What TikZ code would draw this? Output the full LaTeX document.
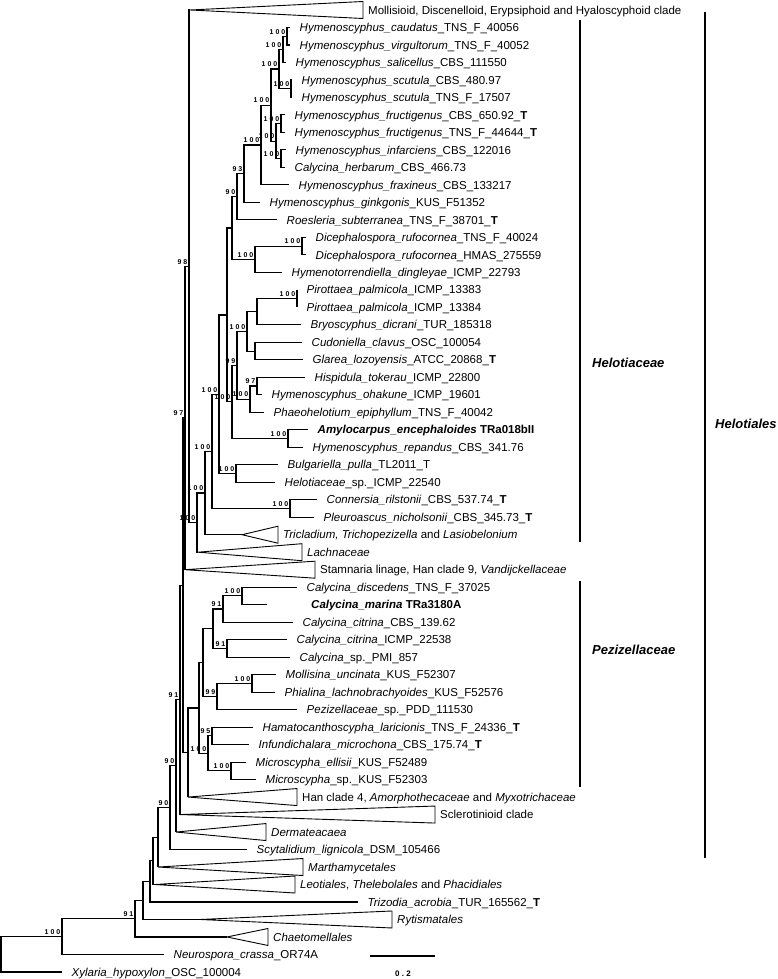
\documentclass[tikz,border=0pt]{standalone}
\usepackage{fontspec}
\setmainfont{Liberation Sans}
\newfontfamily\supfam[LetterSpace=28]{Liberation Sans}
\tikzset{
 br/.style={line width=1.1pt, line join=miter},
 tri/.style={line width=0.9pt, line join=miter},
 bar/.style={line width=2.4pt},
 lab/.style={anchor=west, inner sep=0pt, font=\fontsize{11.5}{13}\selectfont, text height=8.3pt, text depth=0pt},
 tlab/.style={lab, xshift=9.5pt},
 clab/.style={lab, xshift=5pt},
 supf/.style={inner sep=0pt, font=\supfam\bfseries\fontsize{7}{7}\selectfont, text height=5pt, text depth=0pt},
 sup/.style={supf, anchor=south east, xshift=-1.5pt, yshift=2pt},
 famlab/.style={anchor=west, inner sep=0pt, font=\bfseries\itshape\fontsize{13}{15}\selectfont},
}
\newcommand\Tip[4]{\coordinate (#1) at (#2,#3); \node[tlab] (#1-l) at (#1) {#4};}
\newcommand\Tri[5]{%
 \coordinate (#1) at (#2,#3);
 \coordinate (#1-t) at (#4,{#3-0.486});
 \coordinate (#1-b) at (#4,{#3+0.486});
 \draw[tri] (#1) -- (#1-t) -- (#1-b) -- cycle;
 \node[clab] (#1-l) at (#4,#3) {#5};}
\newcommand\Nd[5]{\coordinate (#1) at (#2,#3); \draw[br] (#4) -| (#1) |- (#5);}
\newcommand\Sup[2]{\node[sup] (#1-s) at (#1) {#2};}
\begin{document}
\begin{tikzpicture}
\useasboundingbox (0,0) rectangle (778pt,-979pt);
\begin{scope}[x=1pt,y=-17.49pt,yshift=-10pt]
% ---- tips and collapsed clades
\Tri{moll}{190}{0}{363}{Mollisioid, Discenelloid, Erypsiphoid and Hyaloscyphoid clade}
\Tip{cau}{290}{1}{\textit{Hymenoscyphus\_caudatus}\_TNS\_F\_40056}
\Tip{vir}{290}{2}{\textit{Hymenoscyphus\_virgultorum}\_TNS\_F\_40052}
\Tip{sal}{286}{3}{\textit{Hymenoscyphus\_salicellus}\_CBS\_111550}
\Tip{scuC}{292}{4}{\textit{Hymenoscyphus\_scutula}\_CBS\_480.97}
\Tip{scuT}{292}{5}{\textit{Hymenoscyphus\_scutula}\_TNS\_F\_17507}
\Tip{fruC}{285}{6}{\textit{Hymenoscyphus\_fructigenus}\_CBS\_650.92\_\textbf{T}}
\Tip{fruT}{285}{7}{\textit{Hymenoscyphus\_fructigenus}\_TNS\_F\_44644\_\textbf{T}}
\Tip{inf}{286}{8}{\textit{Hymenoscyphus\_infarciens}\_CBS\_122016}
\Tip{herb}{285}{9}{\textit{Calycina\_herbarum}\_CBS\_466.73}
\Tip{frax}{289}{10}{\textit{Hymenoscyphus\_fraxineus}\_CBS\_133217}
\Tip{gink}{260}{11}{\textit{Hymenoscyphus\_ginkgonis}\_KUS\_F51352}
\Tip{roes}{277}{12}{\textit{Roesleria\_subterranea}\_TNS\_F\_38701\_\textbf{T}}
\Tip{diceT}{306}{13}{\textit{Dicephalospora\_rufocornea}\_TNS\_F\_40024}
\Tip{diceH}{306}{14}{\textit{Dicephalospora\_rufocornea}\_HMAS\_275559}
\Tip{hymt}{282}{15}{\textit{Hymenotorrendiella\_dingleyae}\_ICMP\_22793}
\Tip{pirA}{297}{16}{\textit{Pirottaea\_palmicola}\_ICMP\_13383}
\Tip{pirB}{297}{17}{\textit{Pirottaea\_palmicola}\_ICMP\_13384}
\Tip{bryo}{301}{18}{\textit{Bryoscyphus\_dicrani}\_TUR\_185318}
\Tip{cud}{302}{19}{\textit{Cudoniella\_clavus}\_OSC\_100054}
\Tip{gla}{303}{20}{\textit{Glarea\_lozoyensis}\_ATCC\_20868\_\textbf{T}}
\Tip{hisp}{305}{21}{\textit{Hispidula\_tokerau}\_ICMP\_22800}
\Tip{ohak}{262}{22}{\textit{Hymenoscyphus\_ohakune}\_ICMP\_19601}
\Tip{phae}{264}{23}{\textit{Phaeohelotium\_epiphyllum}\_TNS\_F\_40042}
\Tip{amy}{308}{24}{\textbf{\textit{Amylocarpus\_encephaloides} TRa018bII}}
\Tip{rep}{303}{25}{\textit{Hymenoscyphus\_repandus}\_CBS\_341.76}
\Tip{bulg}{278}{26}{\textit{Bulgariella\_pulla}\_TL2011\_T}
\Tip{helsp}{275}{27}{\textit{Helotiaceae}\_sp.\_ICMP\_22540}
\Tip{conn}{317}{28}{\textit{Connersia\_rilstonii}\_CBS\_537.74\_\textbf{T}}
\Tip{pleu}{314}{29}{\textit{Pleuroascus\_nicholsonii}\_CBS\_345.73\_\textbf{T}}
\Tri{tric}{242}{30}{278}{\textit{Tricladium, Trichopezizella} and \textit{Lasiobelonium}}
\Tri{lach}{198}{31}{302}{\textit{Lachnaceae}}
\Tri{stam}{185}{32}{315}{Stamnaria linage, Han clade 9, \textit{Vandijckellaceae}}
\Tip{disc}{297}{33}{\textit{Calycina\_discedens}\_TNS\_F\_37025}
\coordinate (mar) at (267,34);
\node[lab] (mar-l) at (311,34) {\textbf{\textit{Calycina\_marina} TRa3180A}};
\Tip{citC}{293}{35}{\textit{Calycina\_citrina}\_CBS\_139.62}
\Tip{citI}{287}{36}{\textit{Calycina\_citrina}\_ICMP\_22538}
\Tip{calsp}{290}{37}{\textit{Calycina}\_sp.\_PMI\_857}
\Tip{moln}{276}{38}{\textit{Mollisina\_uncinata}\_KUS\_F52307}
\Tip{phia}{275}{39}{\textit{Phialina\_lachnobrachyoides}\_KUS\_F52576}
\Tip{pezs}{297}{40}{\textit{Pezizellaceae}\_sp.\_PDD\_111530}
\Tip{hama}{253}{41}{\textit{Hamatocanthoscypha\_laricionis}\_TNS\_F\_24336\_\textbf{T}}
\Tip{infu}{249}{42}{\textit{Infundichalara\_microchona}\_CBS\_175.74\_\textbf{T}}
\Tip{micE}{246}{43}{\textit{Microscypha\_ellisii}\_KUS\_F52489}
\Tip{micS}{256}{44}{\textit{Microscypha}\_sp.\_KUS\_F52303}
\Tri{han}{188}{45}{297}{Han clade 4, \textit{Amorphothecaceae} and \textit{Myxotrichaceae}}
\Tri{scl}{180}{46}{435}{Sclerotinioid clade}
\Tri{derm}{176}{47}{266}{\textit{Dermateacaea}}
\Tip{scyt}{247}{48}{\textit{Scytalidium\_lignicola}\_DSM\_105466}
\Tri{mart}{158}{49}{303}{\textit{Marthamycetales}}
\Tri{leot}{155}{50}{295}{\textit{Leotiales}, \textit{Thelebolales} and \textit{Phacidiales}}
\Tip{triz}{358}{51}{\textit{Trizodia\_acrobia}\_TUR\_165562\_\textbf{T}}
\Tri{ryt}{200}{52}{392}{\textit{Rytismatales}}
\Tri{chae}{227}{53}{268}{\textit{Chaetomellales}}
\Tip{neur}{164}{54}{\textit{Neurospora\_crassa}\_OR74A}
\Tip{xyl}{62}{55}{\textit{Xylaria\_hypoxylon}\_OSC\_100004}
% ---- internal nodes
\Nd{cv}{287}{1.5}{cau}{vir}
\Nd{cvs}{283}{2.25}{cv}{sal}
\Nd{sc}{291}{4.5}{scuC}{scuT}
\Nd{top}{279}{3.375}{cvs}{sc}
\Nd{fr}{281}{6.5}{fruC}{fruT}
\Nd{ih}{281}{8.5}{inf}{herb}
\Nd{nB}{276}{7.5}{fr}{ih}
\Nd{X}{271}{5.4375}{top}{nB}
\Nd{D}{261}{7.71875}{X}{frax}
\Nd{E}{244}{9.359}{D}{gink}
\Nd{F}{237}{10.68}{E}{roes}
\Nd{dice}{302}{13.5}{diceT}{diceH}
\Nd{H}{255}{14.25}{dice}{hymt}
\Nd{G}{232}{12.465}{F}{H}
\Nd{pir}{297}{16.5}{pirA}{pirB}
\Nd{PB}{257}{17.25}{pir}{bryo}
\Nd{CG}{255}{19.5}{cud}{gla}
\Nd{J}{247}{18.375}{PB}{CG}
\Nd{HO}{257}{21.5}{hisp}{ohak}
\Nd{HOP}{250}{22.25}{HO}{phae}
\Nd{K}{237}{20.3125}{J}{HOP}
\Nd{amyN}{288}{24.5}{amy}{rep}
\Nd{L}{232}{22.406}{K}{amyN}
\Nd{M}{227}{17.436}{G}{L}
\Nd{R}{236}{26.5}{bulg}{helsp}
\Nd{Q}{219}{21.968}{M}{R}
\Nd{S}{290}{28.5}{conn}{pleu}
\Nd{P}{212}{25.234}{Q}{S}
\Nd{T}{205}{27.617}{P}{tric}
\Nd{U}{197}{29.309}{T}{lach}
\Nd{Nb}{189}{14.654}{moll}{U}
\Nd{Na}{185}{23.327}{Nb}{stam}
\Nd{DM}{242}{33.5}{disc}{mar}
\Nd{DMC}{223}{34.25}{DM}{citC}
\Nd{CS}{227}{36.5}{citI}{calsp}
\Nd{Cal}{213}{35.375}{DMC}{CS}
\Nd{MP}{252}{38.5}{moln}{phia}
\Nd{MPP}{217}{39.25}{MP}{pezs}
\Nd{Zo}{203}{37.3125}{Cal}{MPP}
\Nd{HI}{212}{41.5}{hama}{infu}
\Nd{Mic}{231}{43.5}{micE}{micS}
\Nd{HIM}{208}{42.5}{HI}{Mic}
\Nd{Z}{199}{39.906}{Zo}{HIM}
\Nd{bA}{188}{42.453}{Z}{han}
\Nd{bY}{183}{32.89}{Na}{bA}
\Nd{bB}{180}{39.445}{bY}{scl}
\Nd{bC}{176}{43.22}{bB}{derm}
\Nd{bD}{170}{45.61}{bC}{scyt}
\Nd{bE}{158}{47.305}{bD}{mart}
\Nd{bF}{153}{48.65}{bE}{leot}
\Nd{bG}{150}{49.83}{bF}{triz}
\Nd{bH}{143}{50.91}{bG}{ryt}
\Nd{bI}{135}{51.96}{bH}{chae}
\Nd{bJ}{62}{52.98}{bI}{neur}
\Nd{root}{1}{53.99}{bJ}{xyl}
% ---- support values
\Sup{cv}{100}\Sup{cvs}{100}\Sup{sc}{100}\Sup{top}{100}\Sup{fr}{100}
\Sup{ih}{100}\Sup{nB}{100}\Sup{X}{100}\Sup{D}{100}\Sup{E}{93}\Sup{F}{90}
\Sup{dice}{100}\Sup{H}{100}\Sup{pir}{100}\Sup{J}{100}\Sup{HO}{97}
\Sup{HOP}{100}\Sup{K}{99}\Sup{amyN}{100}\Sup{L}{100}\Sup{Q}{100}
\Sup{R}{100}\Sup{S}{100}\Sup{P}{100}\Sup{T}{100}\Sup{U}{100}
\Sup{Nb}{98}\Sup{Na}{97}\Sup{DM}{100}\Sup{DMC}{91}\Sup{CS}{91}
\Sup{MP}{100}\Sup{MPP}{99}\Sup{HI}{95}\Sup{HIM}{100}\Sup{Mic}{100}
\Sup{bB}{91}\Sup{bC}{90}\Sup{bD}{90}\Sup{bI}{91}\Sup{bJ}{100}
\end{scope}
\begin{scope}[x=1pt,y=-1pt]
\coordinate (hcA) at (580,20); \coordinate (hcB) at (580,542);
\coordinate (pzA) at (580,581); \coordinate (pzB) at (580,787);
\coordinate (hlA) at (705,12); \coordinate (hlB) at (705,858);
\draw[bar] (hcA) -- (hcB);
\draw[bar] (pzA) -- (pzB);
\draw[bar] (hlA) -- (hlB);
\node[famlab] (helL) at (592,363) {Helotiaceae};
\node[famlab] (pezL) at (592,650) {Pezizellaceae};
\node[famlab] (hlsL) at (715,424) {Helotiales};
\coordinate (sbA) at (370,956); \coordinate (sbB) at (435,956);
\draw[br] (sbA) -- (sbB);
\node[supf, font=\supfam\bfseries\fontsize{8}{8}\selectfont] (sbL) at (403,974) {0.2};
\end{scope}
\end{tikzpicture}
\end{document}
